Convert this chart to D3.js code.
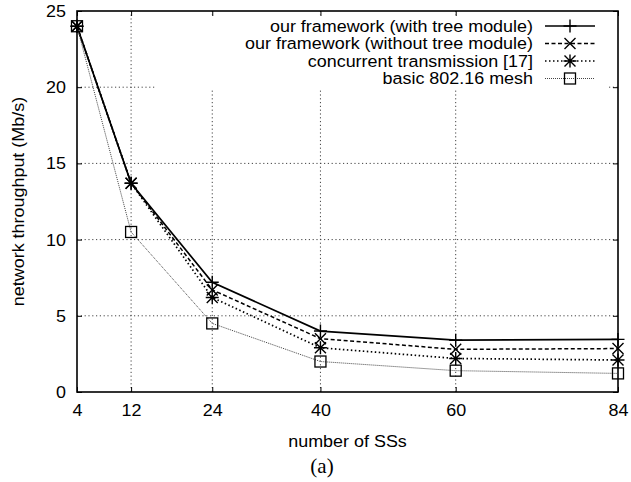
<!DOCTYPE html>
<html>
<head>
<meta charset="utf-8">
<script src="https://cdn.jsdelivr.net/npm/d3@7"></script>
<style>
  html, body { margin: 0; padding: 0; background: #fff; }
  svg { display: block; }
  text { font-family: "Liberation Sans", Arial, Helvetica, sans-serif; fill: #000; }
</style>
</head>
<body>
<svg id="chart" width="631" height="482"></svg>
<script>
// ---- data ----
const xValues = [4, 12, 24, 40, 60, 84];
const withTree    = [24.0, 13.7, 7.2, 4.0, 3.4, 3.45];
const withoutTree = [24.0, 13.7, 6.7, 3.5, 2.8, 2.85];
const concurrent  = [24.0, 13.7, 6.2, 2.9, 2.2, 2.1];
const basicMesh   = [24.0, 10.5, 4.5, 2.0, 1.4, 1.22];
const seriesNames = [
  "our framework (with tree module)",
  "our framework (without tree module)",
  "concurrent transmission [17]",
  "basic 802.16 mesh"
];
const xTickValues = [4, 12, 24, 40, 60, 84];
const yTickValues = [0, 5, 10, 15, 20, 25];
const xLabel = "number of SSs";
const yLabel = "network throughput (Mb/s)";
const caption = "(a)";

// ---- layout ----
const L = 77, R = 618, T = 11, B = 392;
const svg = d3.select("#chart");
const x = d3.scaleLinear().domain([4, 84]).range([L, R]);
const y = d3.scaleLinear().domain([0, 25]).range([B, T]);
const FS = 17;
const SX = 1.055; // horizontal stretch of text

const styles = [
  { dash: null,      width: 1.7, color: "#000", marker: "plus" },
  { dash: "4,2.5",   width: 1.5, color: "#000", marker: "cross" },
  { dash: "1.5,2.5", width: 1.7, color: "#000", marker: "star" },
  { dash: "1,1",     width: 1.0, color: "#444", marker: "square" }
];
const allSeries = [withTree, withoutTree, concurrent, basicMesh];

// ---- grid ----
const grid = svg.append("g").attr("stroke", "#444").attr("stroke-width", 1)
  .attr("stroke-dasharray", "1.2,2.6");
xTickValues.filter(v => v !== 4 && v !== 84).forEach(v => {
  grid.append("line").attr("x1", x(v)).attr("x2", x(v)).attr("y1", B).attr("y2", T);
});
yTickValues.filter(v => v !== 0 && v !== 25).forEach(v => {
  grid.append("line").attr("x1", L).attr("x2", R).attr("y1", y(v)).attr("y2", y(v));
});

// legend background hides the grid
svg.append("rect").attr("x", 155).attr("y", 15).attr("width", 452).attr("height", 73)
  .attr("fill", "#fff");

// ---- axes ----
const fmt = d3.format("d");
const gx = svg.append("g").attr("transform", `translate(0,${B})`)
  .call(d3.axisBottom(x).tickValues(xTickValues).tickSize(-5).tickPadding(12).tickFormat(fmt));
const gxTop = svg.append("g").attr("transform", `translate(0,${T})`)
  .call(d3.axisTop(x).tickValues(xTickValues).tickSize(-5).tickFormat(""));
const gy = svg.append("g").attr("transform", `translate(${L},0)`)
  .call(d3.axisLeft(y).tickValues(yTickValues).tickSize(-5).tickPadding(10.5).tickFormat(fmt));
const gyR = svg.append("g").attr("transform", `translate(${R},0)`)
  .call(d3.axisRight(y).tickValues(yTickValues).tickSize(-5).tickFormat(""));
[gx, gxTop, gy, gyR].forEach(g => {
  g.select(".domain").remove();
  g.selectAll(".tick line").attr("stroke", "#000").attr("stroke-width", 1);
  g.selectAll("text").attr("font-size", FS).attr("font-family", "Liberation Sans, Arial, sans-serif")
    .attr("fill", "#000");
});
gx.selectAll("text").attr("transform", `scale(${SX},1)`);
gy.selectAll("text").attr("transform", `scale(${SX},1)`);

// border
svg.append("rect").attr("x", L).attr("y", T).attr("width", R - L).attr("height", B - T)
  .attr("fill", "none").attr("stroke", "#000").attr("stroke-width", 1.6);

// ---- markers ----
function marker(g, type, cx, cy) {
  const s = 6.5, c = 5.5;
  let d = "";
  if (type === "plus") d = `M${cx - s},${cy}H${cx + s}M${cx},${cy - s}V${cy + s}`;
  else if (type === "cross") d = `M${cx - c},${cy - c}L${cx + c},${cy + c}M${cx - c},${cy + c}L${cx + c},${cy - c}`;
  else if (type === "star") d = `M${cx - s},${cy}H${cx + s}M${cx},${cy - s}V${cy + s}M${cx - c},${cy - c}L${cx + c},${cy + c}M${cx - c},${cy + c}L${cx + c},${cy - c}`;
  if (type === "square") {
    g.append("rect").attr("x", cx - 5.5).attr("y", cy - 5.5).attr("width", 11).attr("height", 11)
      .attr("fill", "none").attr("stroke", "#000").attr("stroke-width", 1.3);
  } else {
    g.append("path").attr("d", d).attr("fill", "none").attr("stroke", "#000").attr("stroke-width", 1.4);
  }
}

// ---- series ----
const line = d3.line().x((d, i) => x(xValues[i])).y(d => y(d));
allSeries.forEach((vals, k) => {
  const st = styles[k];
  svg.append("path").datum(vals).attr("d", line)
    .attr("fill", "none").attr("stroke", st.color).attr("stroke-width", st.width)
    .attr("stroke-dasharray", st.dash);
});
allSeries.forEach((vals, k) => {
  const g = svg.append("g");
  vals.forEach((v, i) => marker(g, styles[k].marker, x(xValues[i]), y(v)));
});

// ---- legend ----
const legendRows = [26, 43.5, 61, 78.5];
seriesNames.forEach((name, k) => {
  const ry = legendRows[k], st = styles[k];
  svg.append("g").attr("transform", `translate(533,${ry}) scale(${SX},1)`)
    .append("text").attr("text-anchor", "end").attr("dy", "0.35em").attr("font-size", FS).text(name);
  svg.append("line").attr("x1", 545).attr("x2", 595).attr("y1", ry).attr("y2", ry)
    .attr("stroke", st.color).attr("stroke-width", st.width).attr("stroke-dasharray", st.dash);
  marker(svg.append("g"), st.marker, 570, ry);
});

// ---- labels ----
svg.append("g").attr("transform", `translate(347.5,447) scale(${SX},1)`)
  .append("text").attr("text-anchor", "middle").attr("font-size", FS).text(xLabel);
svg.append("g").attr("transform", `translate(23.5,201.5) rotate(-90) scale(${SX},1)`)
  .append("text").attr("text-anchor", "middle").attr("font-size", FS).text(yLabel);
svg.append("text").attr("x", 322).attr("y", 473).attr("text-anchor", "middle")
  .attr("font-size", 21)
  .style("font-family", "'Liberation Serif', 'DejaVu Serif', serif").text(caption);
</script>
</body>
</html>
